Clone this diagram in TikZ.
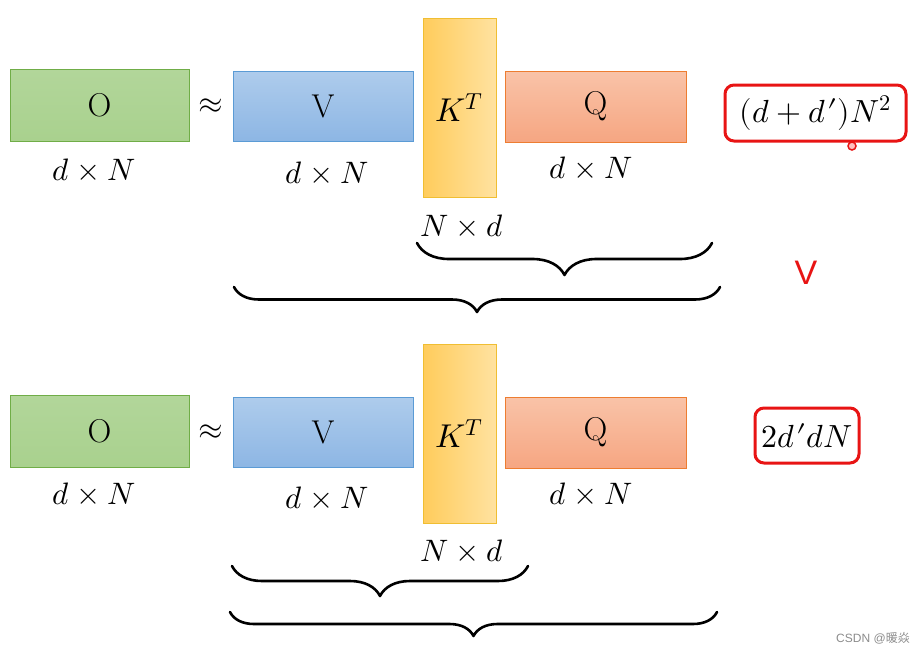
\documentclass[tikz,border=0pt]{standalone}
\usepackage{fontspec}
\usepackage{unicode-math}
\setmathfont{Latin Modern Math}
\newfontfamily\vfont{Liberation Sans}
\newfontfamily\cjk{Noto Sans CJK SC}
\usetikzlibrary{decorations.pathreplacing}
\definecolor{gfill}{RGB}{169,209,142}
\definecolor{gfillt}{RGB}{178,214,154}
\definecolor{gdraw}{RGB}{112,173,71}
\definecolor{bfillt}{RGB}{174,204,236}
\definecolor{bfillb}{RGB}{141,182,228}
\definecolor{bdraw}{RGB}{91,155,213}
\definecolor{yfilll}{RGB}{255,204,92}
\definecolor{yfillr}{RGB}{255,226,160}
\definecolor{ydraw}{RGB}{240,190,50}
\definecolor{ofillt}{RGB}{249,195,168}
\definecolor{ofillb}{RGB}{246,166,130}
\definecolor{odraw}{RGB}{237,125,49}
\definecolor{hred}{RGB}{232,20,20}
\newcommand{\dpr}{d\mkern1mu{\prime}}
\tikzset{
  mat/.style={inner sep=0pt, outer sep=0pt, line width=0.9pt, font=\fontsize{33}{40}\selectfont},
  gbox/.style={mat, draw=gdraw, top color=gfillt, bottom color=gfill, minimum width=179pt, minimum height=72pt},
  bbox/.style={mat, draw=bdraw, top color=bfillt, bottom color=bfillb, minimum width=180pt, minimum height=70pt},
  ybox/.style={mat, draw=ydraw, left color=yfilll, right color=yfillr, minimum width=73pt, minimum height=179pt},
  obox/.style={mat, draw=odraw, top color=ofillt, bottom color=ofillb, minimum width=181pt, minimum height=71pt},
  dimlab/.style={inner sep=0pt, font=\fontsize{31}{36}\selectfont},
  approx/.style={inner sep=0pt, font=\fontsize{32}{36}\selectfont},
  costbox/.style={draw=hred, line width=3pt, rounded corners=9pt, fill=white, inner sep=0pt, font=\fontsize{32}{38}\selectfont},
  bracepath/.style={decorate, decoration={brace, mirror, amplitude=#1}, line width=2.6pt, line cap=round, line join=round},
}
\begin{document}
\begin{tikzpicture}[x=1pt, y=-1pt]
\useasboundingbox (0,0) rectangle (922,654);
% ---- top row ----
\node[gbox] (O1) at (99.5,105) {O};
\node[approx] (ap1) at (211,106) {$\approx$};
\node[bbox] (V1) at (323,106) {V};
\node[ybox] (K1) at (459.5,107.5) {$K^T$};
\node[obox] (Q1) at (595.5,106.5) {Q};
\node[dimlab] (dO1) at (94,170) {$d\times N$};
\node[dimlab] (dV1) at (327,173) {$d\times N$};
\node[dimlab] (dQ1) at (591,168) {$d\times N$};
\node[dimlab] (dK1) at (462,226) {$N\times d$};
\node[costbox, minimum width=181pt, minimum height=56pt] (c1) at (815.5,113) {$(d+\dpr)N^2$};
\node[circle, draw=hred, fill=red!25, line width=1.5pt, minimum size=8pt, inner sep=0pt] (dot) at (852,146) {};
\node[text=hred, inner sep=0pt, font=\vfont\fontsize{34}{40}\selectfont] (gt) at (806,273) {V};
\coordinate (b1a) at (417,243);
\coordinate (b1b) at (712,243);
\coordinate (b2a) at (234,287);
\coordinate (b2b) at (720,287);
\draw[bracepath=32pt] (b1a) -- (b1b);
\draw[bracepath=25pt] (b2a) -- (b2b);
% ---- bottom row ----
\node[gbox] (O2) at (99.5,431) {O};
\node[approx] (ap2) at (211,432) {$\approx$};
\node[bbox] (V2) at (323,432) {V};
\node[ybox] (K2) at (459.5,433.5) {$K^T$};
\node[obox] (Q2) at (595.5,432.5) {Q};
\node[dimlab] (dO2) at (94,494) {$d\times N$};
\node[dimlab] (dV2) at (327,498) {$d\times N$};
\node[dimlab] (dQ2) at (591,494) {$d\times N$};
\node[dimlab] (dK2) at (462,551) {$N\times d$};
\node[costbox, minimum width=104pt, minimum height=55pt] (c2) at (807,435.5) {$2\dpr dN$};
\coordinate (b3a) at (232,566);
\coordinate (b3b) at (528,566);
\coordinate (b4a) at (230,612);
\coordinate (b4b) at (717,612);
\draw[bracepath=30pt] (b3a) -- (b3b);
\draw[bracepath=24pt] (b4a) -- (b4b);
% watermark
\node[text=black!45, inner sep=0pt, font=\fontsize{12}{14}\selectfont] (wm) at (873,638) {\vfont CSDN @\cjk 暖焱};
\end{tikzpicture}
\end{document}
